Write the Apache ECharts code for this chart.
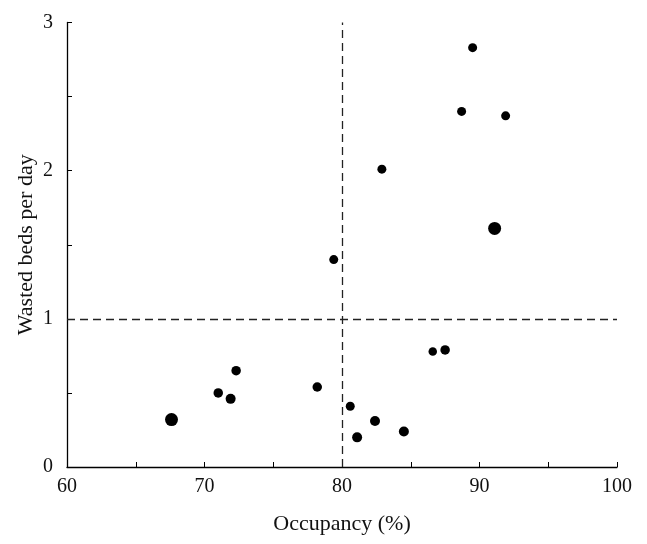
<!DOCTYPE html>
<html>
<head>
<meta charset="utf-8">
<script src="https://cdn.jsdelivr.net/npm/echarts@6/dist/echarts.min.js"></script>
<style>
  html, body { margin: 0; padding: 0; background: #fff; }
  #chart { width: 647px; height: 544px; }
</style>
</head>
<body>
<div id="chart"></div>
<script>
  // occupancy (%), wasted beds per day, marker size
  const occupancy = [67.6, 71.0, 71.9, 72.3, 78.2, 79.4, 80.6, 81.1, 82.4, 82.9, 84.5, 86.6, 87.5, 88.7, 89.5, 91.1, 91.9];
  const wastedBeds = [0.32, 0.50, 0.46, 0.65, 0.54, 1.40, 0.41, 0.20, 0.31, 2.01, 0.24, 0.78, 0.79, 2.40, 2.83, 1.61, 2.37];
  const markerSize = [13, 9.5, 10, 9.5, 9.5, 9, 9, 10, 10, 9, 10, 8.5, 9.5, 9, 9, 13, 9];
  const occupancyCut = 80;
  const wastedCut = 1;

  const font = 'Liberation Serif, Times New Roman, serif';
  let chart = echarts.init(document.getElementById('chart'));

  let points = [];
  for (let i = 0; i < occupancy.length; i++) {
    points.push({ value: [occupancy[i], wastedBeds[i]], symbolSize: markerSize[i] });
  }

  let option = {
    animation: false,
    grid: { left: 67, right: 30, top: 22.5, bottom: 77 },
    xAxis: {
      type: 'value',
      min: 60,
      max: 100,
      interval: 5,
      name: 'Occupancy (%)',
      nameLocation: 'middle',
      nameGap: 46,
      nameMoveOverlap: false,
      nameTextStyle: { fontFamily: font, fontSize: 22, color: '#111' },
      axisLine: { lineStyle: { color: '#000', width: 1.3 } },
      axisTick: { inside: true, length: 5, lineStyle: { color: '#000' } },
      axisLabel: {
        fontFamily: font, fontSize: 20, color: '#111', margin: 10,
        formatter: function (v) { return v % 10 === 0 ? String(v) : ''; }
      },
      splitLine: { show: false }
    },
    yAxis: {
      type: 'value',
      min: 0,
      max: 3,
      interval: 0.5,
      name: 'Wasted beds per day',
      nameLocation: 'middle',
      nameGap: 30,
      nameMoveOverlap: false,
      nameTextStyle: { fontFamily: font, fontSize: 22, color: '#111' },
      axisLine: { show: true, lineStyle: { color: '#000', width: 1.3 } },
      axisTick: { show: true, inside: true, length: 5, lineStyle: { color: '#000' } },
      axisLabel: {
        fontFamily: font, fontSize: 20, color: '#111', margin: 14,
        formatter: function (v) { return Number.isInteger(v) ? String(v) : ''; }
      },
      splitLine: { show: false }
    },
    series: [{
      type: 'scatter',
      data: points,
      itemStyle: { color: '#000', opacity: 1 },
      markLine: {
        symbol: ['none', 'none'],
        silent: true,
        label: { show: false },
        lineStyle: { color: '#222', type: [8, 5], width: 1.3 },
        data: [{ xAxis: occupancyCut }, { yAxis: wastedCut }]
      }
    }]
  };

  chart.setOption(option);
</script>
</body>
</html>
